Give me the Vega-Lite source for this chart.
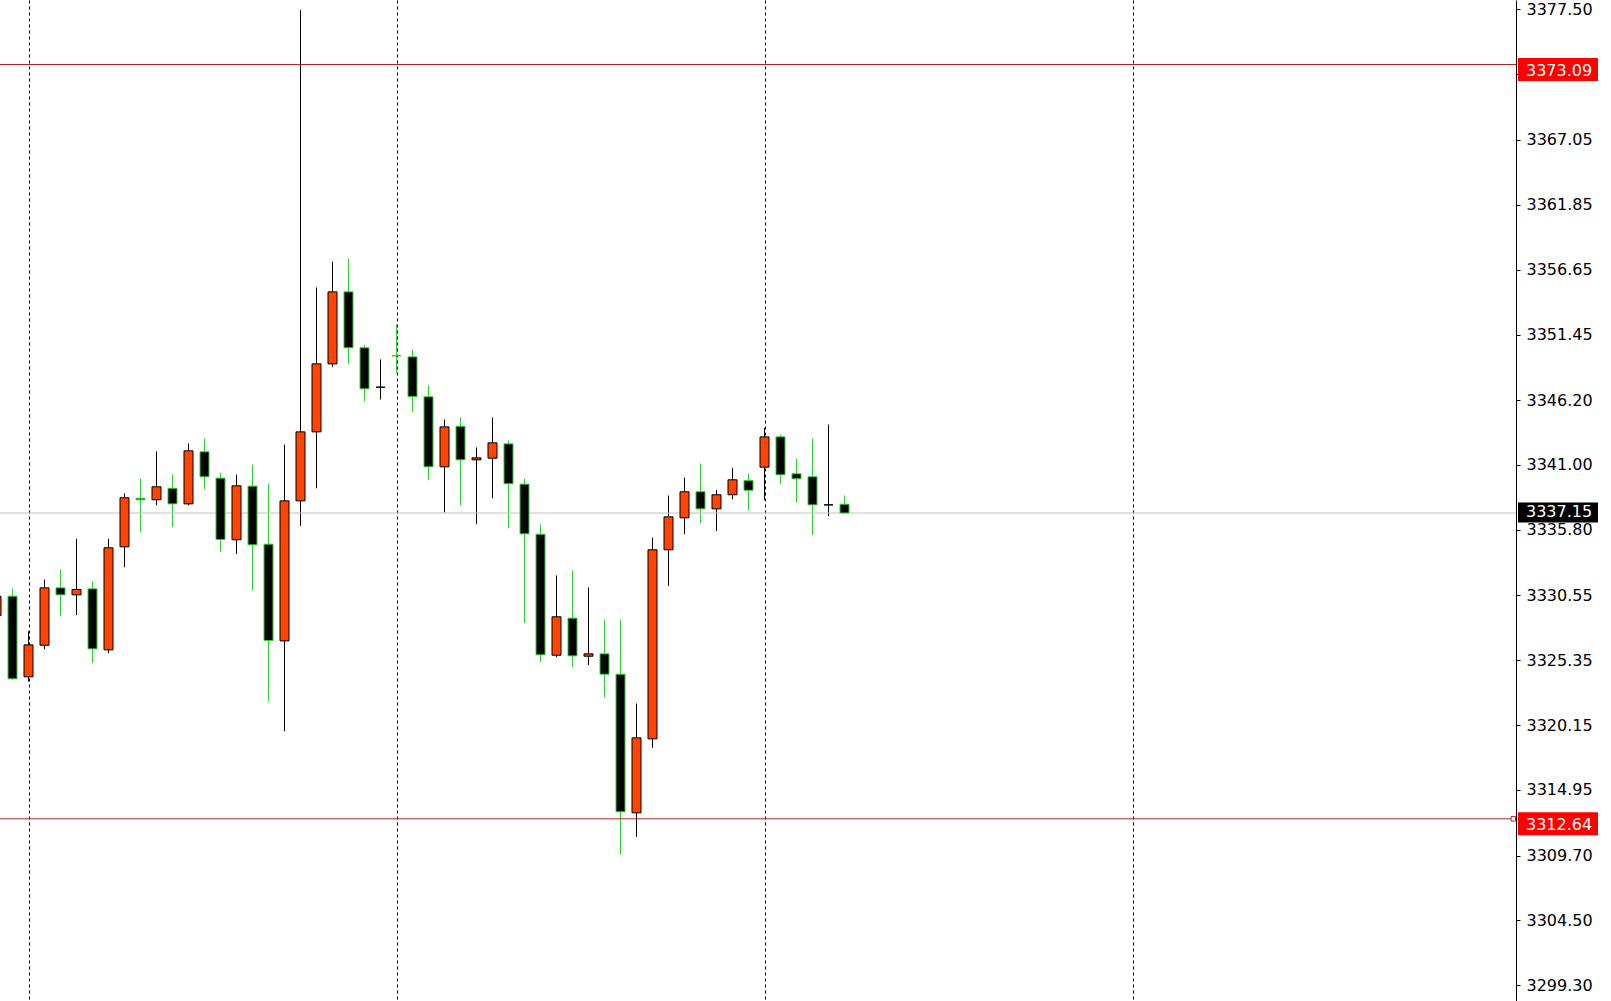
{
  "$schema": "https://vega.github.io/schema/vega-lite/v6.json",
  "width": 1516,
  "height": 1001,
  "autosize": {"type": "none"},
  "padding": {"left": 0, "top": 0, "right": 95, "bottom": 0},
  "background": "white",
  "config": {"view": {"stroke": null}, "font": "DejaVu Sans", "scale": {"continuousPadding": 0}},
  "datasets": {
    "candles": [
      {"i": -2, "o": 3328.93, "h": 3331.2, "l": 3328.4, "c": 3330.48},
      {"i": -1, "o": 3330.48, "h": 3331.10, "l": 3323.80, "c": 3323.86},
      {"i": 0, "o": 3324.02, "h": 3327.67, "l": 3323.64, "c": 3326.58},
      {"i": 1, "o": 3326.55, "h": 3331.82, "l": 3326.23, "c": 3331.15},
      {"i": 2, "o": 3331.15, "h": 3332.62, "l": 3328.88, "c": 3330.59},
      {"i": 3, "o": 3330.59, "h": 3335.08, "l": 3328.96, "c": 3331.02},
      {"i": 4, "o": 3331.07, "h": 3331.66, "l": 3325.11, "c": 3326.26},
      {"i": 5, "o": 3326.18, "h": 3335.08, "l": 3325.91, "c": 3334.36},
      {"i": 6, "o": 3334.44, "h": 3338.71, "l": 3332.80, "c": 3338.37},
      {"i": 7, "o": 3338.33, "h": 3339.91, "l": 3335.61, "c": 3338.21},
      {"i": 8, "o": 3338.21, "h": 3342.08, "l": 3337.77, "c": 3339.25},
      {"i": 9, "o": 3339.13, "h": 3340.23, "l": 3336.01, "c": 3337.88},
      {"i": 10, "o": 3337.88, "h": 3342.72, "l": 3337.77, "c": 3342.13},
      {"i": 11, "o": 3342.05, "h": 3343.12, "l": 3339.05, "c": 3340.05},
      {"i": 12, "o": 3339.94, "h": 3340.37, "l": 3334.04, "c": 3335.02},
      {"i": 13, "o": 3335.00, "h": 3340.23, "l": 3333.85, "c": 3339.33},
      {"i": 14, "o": 3339.30, "h": 3341.03, "l": 3330.96, "c": 3334.60},
      {"i": 15, "o": 3334.65, "h": 3339.51, "l": 3322.06, "c": 3326.93},
      {"i": 16, "o": 3326.90, "h": 3342.64, "l": 3319.66, "c": 3338.12},
      {"i": 17, "o": 3338.12, "h": 3377.46, "l": 3336.11, "c": 3343.65},
      {"i": 18, "o": 3343.65, "h": 3355.22, "l": 3339.13, "c": 3349.10},
      {"i": 19, "o": 3349.10, "h": 3357.30, "l": 3348.83, "c": 3354.87},
      {"i": 20, "o": 3354.87, "h": 3357.54, "l": 3349.07, "c": 3350.39},
      {"i": 21, "o": 3350.39, "h": 3350.63, "l": 3346.08, "c": 3347.10},
      {"i": 22, "o": 3347.23, "h": 3349.45, "l": 3346.24, "c": 3347.23},
      {"i": 23, "o": 3349.76, "h": 3352.25, "l": 3348.35, "c": 3349.74},
      {"i": 24, "o": 3349.66, "h": 3350.25, "l": 3345.22, "c": 3346.48},
      {"i": 25, "o": 3346.46, "h": 3347.39, "l": 3339.78, "c": 3340.85},
      {"i": 26, "o": 3340.85, "h": 3344.64, "l": 3337.19, "c": 3344.05},
      {"i": 27, "o": 3344.10, "h": 3344.80, "l": 3337.77, "c": 3341.41},
      {"i": 28, "o": 3341.41, "h": 3342.40, "l": 3336.25, "c": 3341.57},
      {"i": 29, "o": 3341.54, "h": 3344.80, "l": 3338.33, "c": 3342.77},
      {"i": 30, "o": 3342.69, "h": 3342.96, "l": 3335.93, "c": 3339.49},
      {"i": 31, "o": 3339.46, "h": 3339.91, "l": 3328.32, "c": 3335.48},
      {"i": 32, "o": 3335.45, "h": 3336.23, "l": 3325.19, "c": 3325.78},
      {"i": 33, "o": 3325.75, "h": 3332.14, "l": 3325.59, "c": 3328.83},
      {"i": 34, "o": 3328.72, "h": 3332.54, "l": 3324.79, "c": 3325.70},
      {"i": 35, "o": 3325.67, "h": 3331.18, "l": 3324.95, "c": 3325.86},
      {"i": 36, "o": 3325.86, "h": 3328.61, "l": 3322.39, "c": 3324.23},
      {"i": 37, "o": 3324.23, "h": 3328.61, "l": 3309.78, "c": 3313.20},
      {"i": 38, "o": 3313.12, "h": 3321.88, "l": 3311.20, "c": 3319.13},
      {"i": 39, "o": 3319.05, "h": 3335.18, "l": 3318.33, "c": 3334.20},
      {"i": 40, "o": 3334.20, "h": 3338.55, "l": 3331.31, "c": 3336.84},
      {"i": 41, "o": 3336.76, "h": 3339.99, "l": 3335.45, "c": 3338.85},
      {"i": 42, "o": 3338.85, "h": 3341.11, "l": 3336.33, "c": 3337.48},
      {"i": 43, "o": 3337.48, "h": 3339.01, "l": 3335.70, "c": 3338.61},
      {"i": 44, "o": 3338.61, "h": 3340.77, "l": 3338.25, "c": 3339.81},
      {"i": 45, "o": 3339.75, "h": 3340.31, "l": 3337.37, "c": 3338.97},
      {"i": 46, "o": 3340.82, "h": 3343.97, "l": 3338.17, "c": 3343.25},
      {"i": 47, "o": 3343.25, "h": 3343.44, "l": 3339.46, "c": 3340.21},
      {"i": 48, "o": 3340.29, "h": 3341.51, "l": 3337.99, "c": 3339.89},
      {"i": 49, "o": 3340.05, "h": 3343.12, "l": 3335.37, "c": 3337.80},
      {"i": 50, "o": 3337.80, "h": 3344.24, "l": 3336.89, "c": 3337.80},
      {"i": 51, "o": 3337.85, "h": 3338.55, "l": 3337.15, "c": 3337.15}
    ],
    "levels": [
      {"price": 3373.09, "kind": "line", "label": "3373.09"},
      {"price": 3312.64, "kind": "line", "label": "3312.64"},
      {"price": 3337.15, "kind": "bid", "label": "3337.15"}
    ]
  },
  "layer": [
    {
      "data": {"name": "candles"},
      "mark": {"type": "rule", "strokeWidth": 1},
      "encoding": {
        "x": {
          "field": "i", "type": "quantitative",
          "scale": {"domain": [-1.78125, 92.96875], "nice": false, "zero": false, "padding": 0},
          "axis": {"values": [0, 23, 46, 69], "grid": true, "gridDash": [3, 3], "gridColor": "#000000", "gridOpacity": 1, "gridWidth": 1, "labels": false, "ticks": false, "domain": false, "title": null}
        },
        "y": {
          "field": "l", "type": "quantitative",
          "scale": {"domain": [3298.04, 3378.26], "nice": false, "zero": false, "padding": 0},
          "axis": {
            "orient": "right",
            "values": [3377.50, 3372.30, 3367.05, 3361.85, 3356.65, 3351.45, 3346.20, 3341.00, 3335.80, 3330.55, 3325.35, 3320.15, 3314.95, 3309.70, 3304.50, 3299.30],
            "format": ".2f",
            "grid": false,
            "domainColor": "#000000",
            "domainWidth": 1,
            "tickColor": "#000000",
            "tickSize": 4,
            "labelFont": "DejaVu Sans",
            "labelFontSize": 16,
            "labelColor": "#000000",
            "labelPadding": 6,
            "labelBaseline": "middle",
            "labelOverlap": false,
            "labelFlush": false,
            "title": null
          }
        },
        "y2": {"field": "h"},
        "color": {
          "condition": {"test": "datum.c >= datum.o", "value": "#000000"},
          "value": "#32CD32"
        }
      }
    },
    {
      "data": {"name": "levels"},
      "mark": {"type": "rule", "strokeWidth": 1},
      "encoding": {
        "y": {"field": "price", "type": "quantitative"},
        "color": {
          "condition": {"test": "datum.kind === 'bid'", "value": "#C0C0C0"},
          "value": "#B22222"
        }
      }
    },
    {
      "data": {"name": "candles"},
      "mark": {"type": "bar", "width": 9, "strokeWidth": 1},
      "encoding": {
        "x": {"field": "i", "type": "quantitative"},
        "y": {"field": "o", "type": "quantitative"},
        "y2": {"field": "c"},
        "fill": {
          "condition": {"test": "datum.c >= datum.o", "value": "#FF4500"},
          "value": "#000000"
        },
        "stroke": {
          "condition": {"test": "datum.c >= datum.o", "value": "#000000"},
          "value": "#32CD32"
        }
      }
    },
    {
      "data": {"name": "levels"},
      "transform": [{"filter": "datum.kind === 'line'"}],
      "mark": {"type": "rect", "fill": "#FF0000", "yOffset": -6.5, "y2Offset": 16.5},
      "encoding": {
        "x": {"datum": 93.09375, "type": "quantitative"},
        "x2": {"datum": 98.09375},
        "y": {"field": "price", "type": "quantitative"},
        "y2": {"field": "price"}
      }
    },
    {
      "data": {"name": "levels"},
      "transform": [{"filter": "datum.kind === 'bid'"}],
      "mark": {"type": "rect", "fill": "#000000", "yOffset": -10.5, "y2Offset": 9.5},
      "encoding": {
        "x": {"datum": 93.09375, "type": "quantitative"},
        "x2": {"datum": 98.09375},
        "y": {"field": "price", "type": "quantitative"},
        "y2": {"field": "price"}
      }
    },
    {
      "data": {"name": "levels"},
      "transform": [{"filter": "datum.kind === 'line'"}],
      "mark": {"type": "text", "align": "left", "baseline": "middle", "dy": 6, "font": "DejaVu Sans", "fontSize": 16, "color": "#FFFFFF"},
      "encoding": {
        "x": {"datum": 93.59375, "type": "quantitative"},
        "y": {"field": "price", "type": "quantitative"},
        "text": {"field": "label"}
      }
    },
    {
      "data": {"name": "levels"},
      "transform": [{"filter": "datum.kind === 'bid'"}],
      "mark": {"type": "text", "align": "left", "baseline": "middle", "dy": -0.5, "font": "DejaVu Sans", "fontSize": 16, "color": "#FFFFFF"},
      "encoding": {
        "x": {"datum": 93.59375, "type": "quantitative"},
        "y": {"field": "price", "type": "quantitative"},
        "text": {"field": "label"}
      }
    },
    {
      "data": {"name": "levels"},
      "transform": [{"filter": "datum.price < 3320"}],
      "mark": {"type": "point", "shape": "square", "size": 20, "filled": true, "fill": "#FFFFFF", "stroke": "#B22222", "strokeWidth": 1, "opacity": 1},
      "encoding": {
        "x": {"datum": 92.8, "type": "quantitative"},
        "y": {"field": "price", "type": "quantitative"}
      }
    }
  ]
}
